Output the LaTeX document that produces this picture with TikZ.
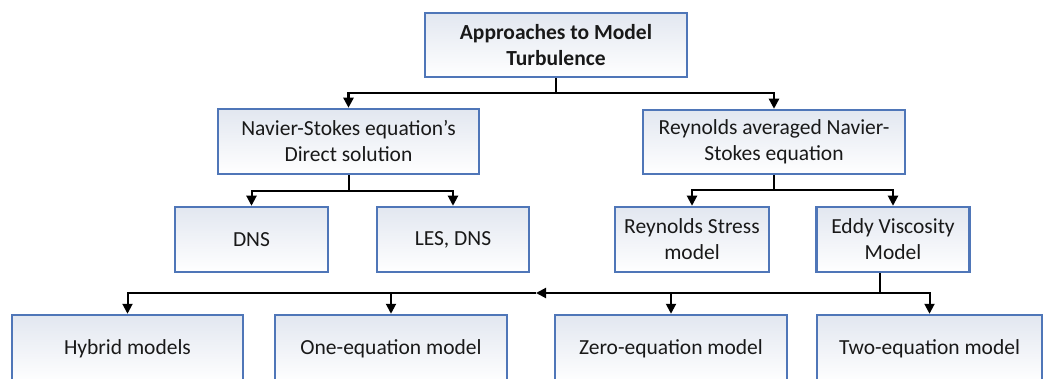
\documentclass[tikz,border=0pt]{standalone}
\usepackage{fontspec}
\setmainfont{Carlito}
\usetikzlibrary{arrows.meta}
\definecolor{boxline}{HTML}{4F76B8}
\definecolor{boxtop}{HTML}{E2E7F0}
\tikzset{
  box/.style={draw=boxline, line width=2.5pt, rectangle, top color=boxtop, bottom color=white,
    align=center, inner sep=0pt, font=\fontsize{21.5}{26}\selectfont, text=black!90},
  conn/.style={line width=2pt, black},
  arr/.style={conn, -{Triangle[length=10pt,width=10pt]}},
}
\begin{document}
\begin{tikzpicture}[x=1pt,y=-1pt]
\useasboundingbox (0,0) rectangle (1062,379);
\node[box, minimum width=262pt, minimum height=64pt, font=\bfseries\fontsize{21.5}{26}\selectfont] (top) at (556,45) {Approaches to Model\\Turbulence};
\node[box, minimum width=261pt, minimum height=65pt] (nav) at (348.5,141.5) {Navier-Stokes equation’s\\Direct solution};
\node[box, minimum width=262pt, minimum height=64pt] (rans) at (774,142) {Reynolds averaged Navier-\\Stokes equation};
\node[box, minimum width=153pt, minimum height=65pt] (dns) at (251.5,239.5) {DNS};
\node[box, minimum width=152pt, minimum height=65pt] (les) at (453,239.5) {LES, DNS};
\node[box, minimum width=154pt, minimum height=65pt] (rs) at (692,239.5) {Reynolds Stress\\model};
\node[box, minimum width=153pt, minimum height=65pt] (ev) at (893,239.5) {Eddy Viscosity\\Model};
\node[box, minimum width=231pt, minimum height=68pt] (hyb) at (127.5,349) {Hybrid models};
\node[box, minimum width=232pt, minimum height=68pt] (one) at (391,349) {One-equation model};
\node[box, minimum width=232pt, minimum height=68pt] (zero) at (671,349) {Zero-equation model};
\node[box, minimum width=225pt, minimum height=68pt] (two) at (929.5,349) {Two-equation model};
% connectors
\coordinate (t1) at (556,93);
\draw[conn, line width=2.6pt] (top.south) -- (t1);
\draw[arr, line width=2.4pt] (t1) -| (nav.north);
\draw[arr, line width=2.4pt] (t1) -| (rans.north);
\coordinate (n1) at (348.5,191);
\draw[conn] (nav.south) -- (n1);
\draw[arr] (n1) -| (dns.north);
\draw[arr] (n1) -| (les.north);
\coordinate (r1) at (774,190);
\draw[conn] (rans.south) -- (r1);
\draw[arr] (r1) -| (rs.north);
\draw[arr] (r1) -| (ev.north);
\coordinate (e1) at (880,293);
\coordinate (mid) at (536,293);
\draw[conn] (ev.south -| e1) -- (e1);
\draw[arr] (e1) -- (mid);
\draw[arr] (mid) -| (hyb.north);
\draw[arr] (mid -| one.north) -- (one.north);
\draw[arr] (e1 -| zero.north) -- (zero.north);
\draw[arr] (e1) -| (two.north);
\end{tikzpicture}
\end{document}
